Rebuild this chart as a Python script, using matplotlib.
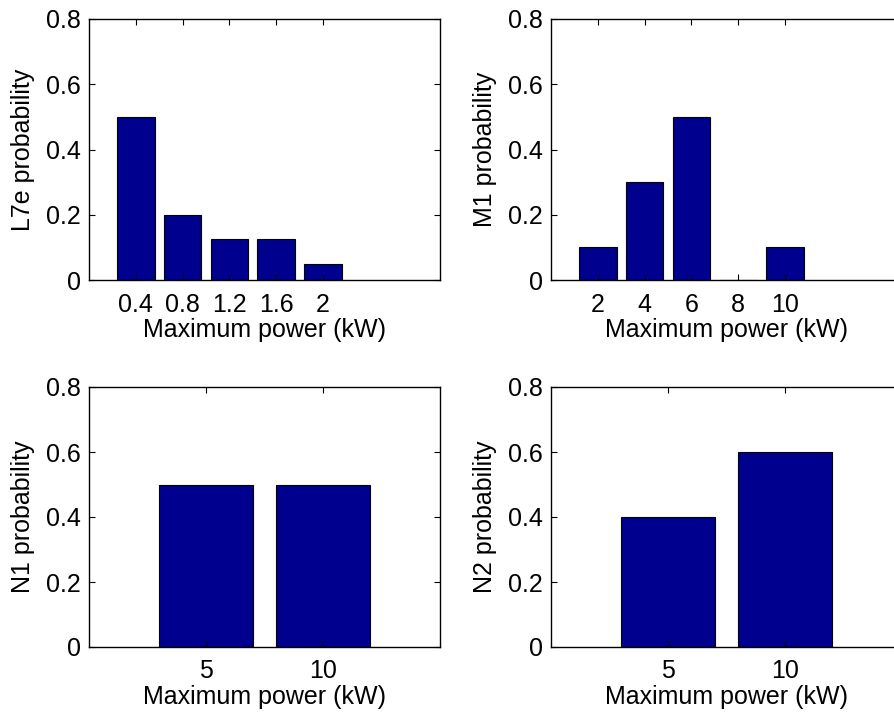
import matplotlib
matplotlib.use('Agg')
import matplotlib.pyplot as plt
import numpy as np

plt.rcParams['font.family'] = ['Liberation Sans', 'DejaVu Sans']

# Dữ liệu
l7e_labels = ['0.4', '0.8', '1.2', '1.6', '2']
l7e_prob = [0.5, 0.2, 0.125, 0.125, 0.05]

m1_labels = ['2', '4', '6', '8', '10']
m1_prob = [0.1, 0.3, 0.5, 0.0, 0.1]

n1_labels = ['5', '10']
n1_prob = [0.5, 0.5]

n2_labels = ['5', '10']
n2_prob = [0.4, 0.6]

bar_color = '#00008F'

fig = plt.figure(figsize=(8.94, 7.13), dpi=100)

# vị trí các trục (theo pixel của ảnh gốc)
W, H = 894.0, 713.0
def vitri(x0, y0, x1, y1):
    return [x0 / W, (H - y1) / H, (x1 - x0) / W, (y1 - y0) / H]

panels = [
    (vitri(89, 19, 440, 280), l7e_labels, l7e_prob, 'L7e probability', 7.5),
    (vitri(551, 19, 902, 280), m1_labels, m1_prob, 'M1 probability', 7.5),
    (vitri(89, 387, 440, 647), n1_labels, n1_prob, 'N1 probability', 3),
    (vitri(551, 387, 902, 647), n2_labels, n2_prob, 'N2 probability', 3),
]

for rect, labels, prob, ylab, xmax in panels:
    ax = fig.add_axes(rect)
    x = np.arange(1, len(labels) + 1)
    ax.bar(x, prob, width=0.8, color=bar_color, edgecolor='black', linewidth=0.8)
    ax.set_xlim(0, xmax)
    ax.set_ylim(0, 0.8)
    ax.set_xticks(x)
    ax.set_xticklabels(labels)
    ax.set_yticks([0, 0.2, 0.4, 0.6, 0.8])
    ax.set_yticklabels(['0', '0.2', '0.4', '0.6', '0.8'])
    ax.tick_params(direction='in', length=4, width=0.8, top=True, right=True,
                   labelsize=18, pad=6)
    ax.tick_params(axis='x', pad=9)
    for s in ax.spines.values():
        s.set_linewidth(1.0)
    ax.set_xlabel('Maximum power (kW)', fontsize=18, labelpad=1)
    ax.set_ylabel(ylab, fontsize=18, labelpad=8)

fig.savefig('out.png', dpi=100)
